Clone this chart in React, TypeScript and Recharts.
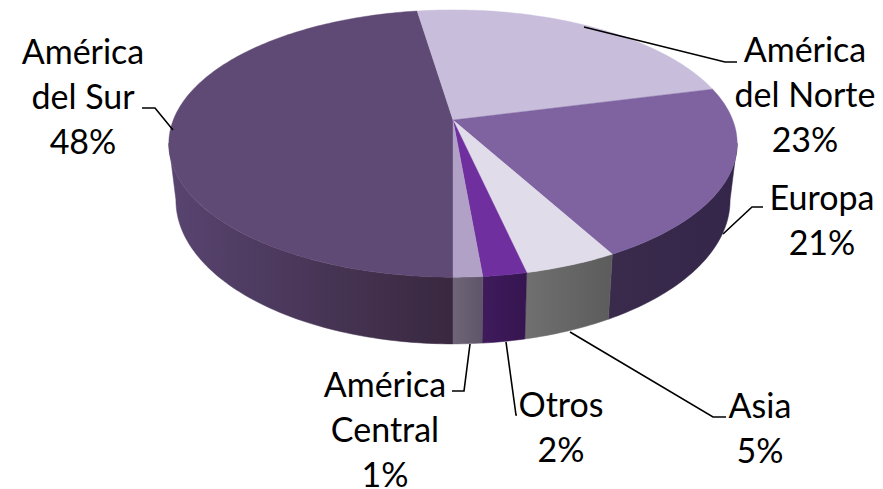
import React from "react";
import { PieChart, Pie, Cell } from "recharts";

const categories = ["América del Sur", "América del Norte", "Europa", "Asia", "Otros", "América Central"];
const values = [47.6, 23.4, 21, 4.5, 2.1, 1.4];
const percents = ["48%", "23%", "21%", "5%", "2%", "1%"];

const topColors = ["#5f4975", "#c8bedb", "#7f63a1", "#e1dcea", "#6f2f9f", "#b2a1c7"];
const wallLeft = ["#584470", "#8a7a9c", "#3a2b4c", "#707070", "#3f1b5c", "#6e6578"];
const wallRight = ["#39283f", "#6a5a7c", "#34264a", "#5c5c5c", "#351550", "#5e5668"];

const labelLines = [["América", "del Sur", 83, 64], ["América", "del Norte", 805, 62], ["Europa", 822, 210], ["Asia", 760, 418], ["Otros", 561, 417], ["América", "Central", 385, 397]] as any[];
const leaders = [
  [[173, 130], [155, 108], [142, 108]],
  [[584, 27], [725, 62], [737, 62]],
  [[723, 234], [752, 207], [763, 207]],
  [[570, 332], [713, 417], [726, 417]],
  [[506, 342], [516, 415], [517, 415]],
  [[470, 344], [464, 391], [452, 391]],
];

const P = 0.176;
const DEPTH = 55;
const SHRINK = 0.975;
const RAD = Math.PI / 180;

function project(cx: number, cy: number, r: number, deg: number, low: boolean) {
  const u = Math.cos(deg * RAD);
  const v = Math.sin(deg * RAD);
  const w = 1 + P * v;
  const x = (r * 0.985 * u) / w;
  const y = (-r * 0.456 * v) / w;
  if (!low) return [cx + x, cy + y];
  return [cx + x * SHRINK, cy + y + DEPTH / w];
}

function arc(cx: number, cy: number, r: number, a: number, b: number, low: boolean) {
  const n = Math.max(2, Math.ceil(Math.abs(a - b)));
  const pts: number[][] = [];
  for (let i = 0; i <= n; i++) pts.push(project(cx, cy, r, a + ((b - a) * i) / n, low));
  return pts;
}
const toPath = (pts: number[][]) => pts.map((p) => `${p[0].toFixed(2)},${p[1].toFixed(2)}`).join(" L");

const VIS_A = 270 - 80;
const VIS_B = 270 + 80 - 360;

function Slice(props: any) {
  const { cx, cy, outerRadius: r, startAngle, endAngle, index } = props;
  const i = index ?? categories.indexOf(props.name);
  const top = arc(cx, cy, r, startAngle, endAngle, false);
  // angles run from 270 down to -90: the front of the disc is (270..190) and (-10..-90)
  let wall: any = null;
  const segs: number[][] = [];
  const a1 = Math.min(startAngle, 270), b1 = Math.max(endAngle, VIS_A);
  if (a1 > b1) segs.push([a1, b1]);
  const a2 = Math.min(startAngle, VIS_B), b2 = Math.max(endAngle, -90);
  if (a2 > b2) segs.push([a2, b2]);
  if (segs.length) {
    const [a, b] = segs[0];
    const t = arc(cx, cy, r, a, b, false);
    const l = arc(cx, cy, r, a, b, true).reverse();
    const xs = [...t, ...l].map((p) => p[0]);
    wall = (
      <g>
        <linearGradient id={`w${i}`} gradientUnits="userSpaceOnUse" x1={Math.min(...xs)} x2={Math.max(...xs)} y1={0} y2={0}>
          <stop offset="0" stopColor={wallLeft[i]} />
          <stop offset="1" stopColor={wallRight[i]} />
        </linearGradient>
        <path d={`M${toPath(t)} L${toPath(l)} Z`} fill={`url(#w${i})`} stroke={`url(#w${i})`} strokeWidth={0.5} />
      </g>
    );
  }
  return (
    <g>
      {wall}
      <path d={`M${cx},${cy} L${toPath(top)} Z`} fill={topColors[i]} stroke={topColors[i]} strokeWidth={0.4} />
    </g>
  );
}

const txt = { fontFamily: "Lato, Carlito, sans-serif", fontSize: 34, fill: "#000" };

function Label(props: any) {
  const i = props.index;
  const spec = labelLines[i];
  const lines = spec.slice(0, spec.length - 2) as string[];
  const x = spec[spec.length - 2];
  const y = spec[spec.length - 1];
  const all = [...lines, percents[i]];
  const pts = leaders[i].map((p) => p.join(",")).join(" ");
  return (
    <g>
      <polyline points={pts} fill="none" stroke="#000" strokeWidth={1.6} />
      <text x={x} y={y} textAnchor="middle" style={txt}>
        {all.map((s, k) => (
          <tspan key={k} x={x} dy={k === 0 ? 0 : 45}>{s}</tspan>
        ))}
      </text>
    </g>
  );
}

const data = categories.map((name, k) => ({ name, value: values[k] }));

export default function App() {
  return (
    <div style={{ position: "absolute", left: 0, top: 0, width: 883, height: 489 }}>
      <PieChart width={883} height={489} margin={{ top: 0, right: 0, bottom: 0, left: 0 }}>
        <Pie
          data={data}
          dataKey="value"
          nameKey="name"
          cx={453}
          cy={120}
          innerRadius={0}
          outerRadius={284}
          startAngle={270}
          endAngle={-90}
          paddingAngle={0}
          stroke="none"
          isAnimationActive={false}
          shape={Slice}
          label={Label}
          labelLine={false}
        >
          {categories.map((c, k) => (
            <Cell key={c} fill={topColors[k]} />
          ))}
        </Pie>
      </PieChart>
    </div>
  );
}
